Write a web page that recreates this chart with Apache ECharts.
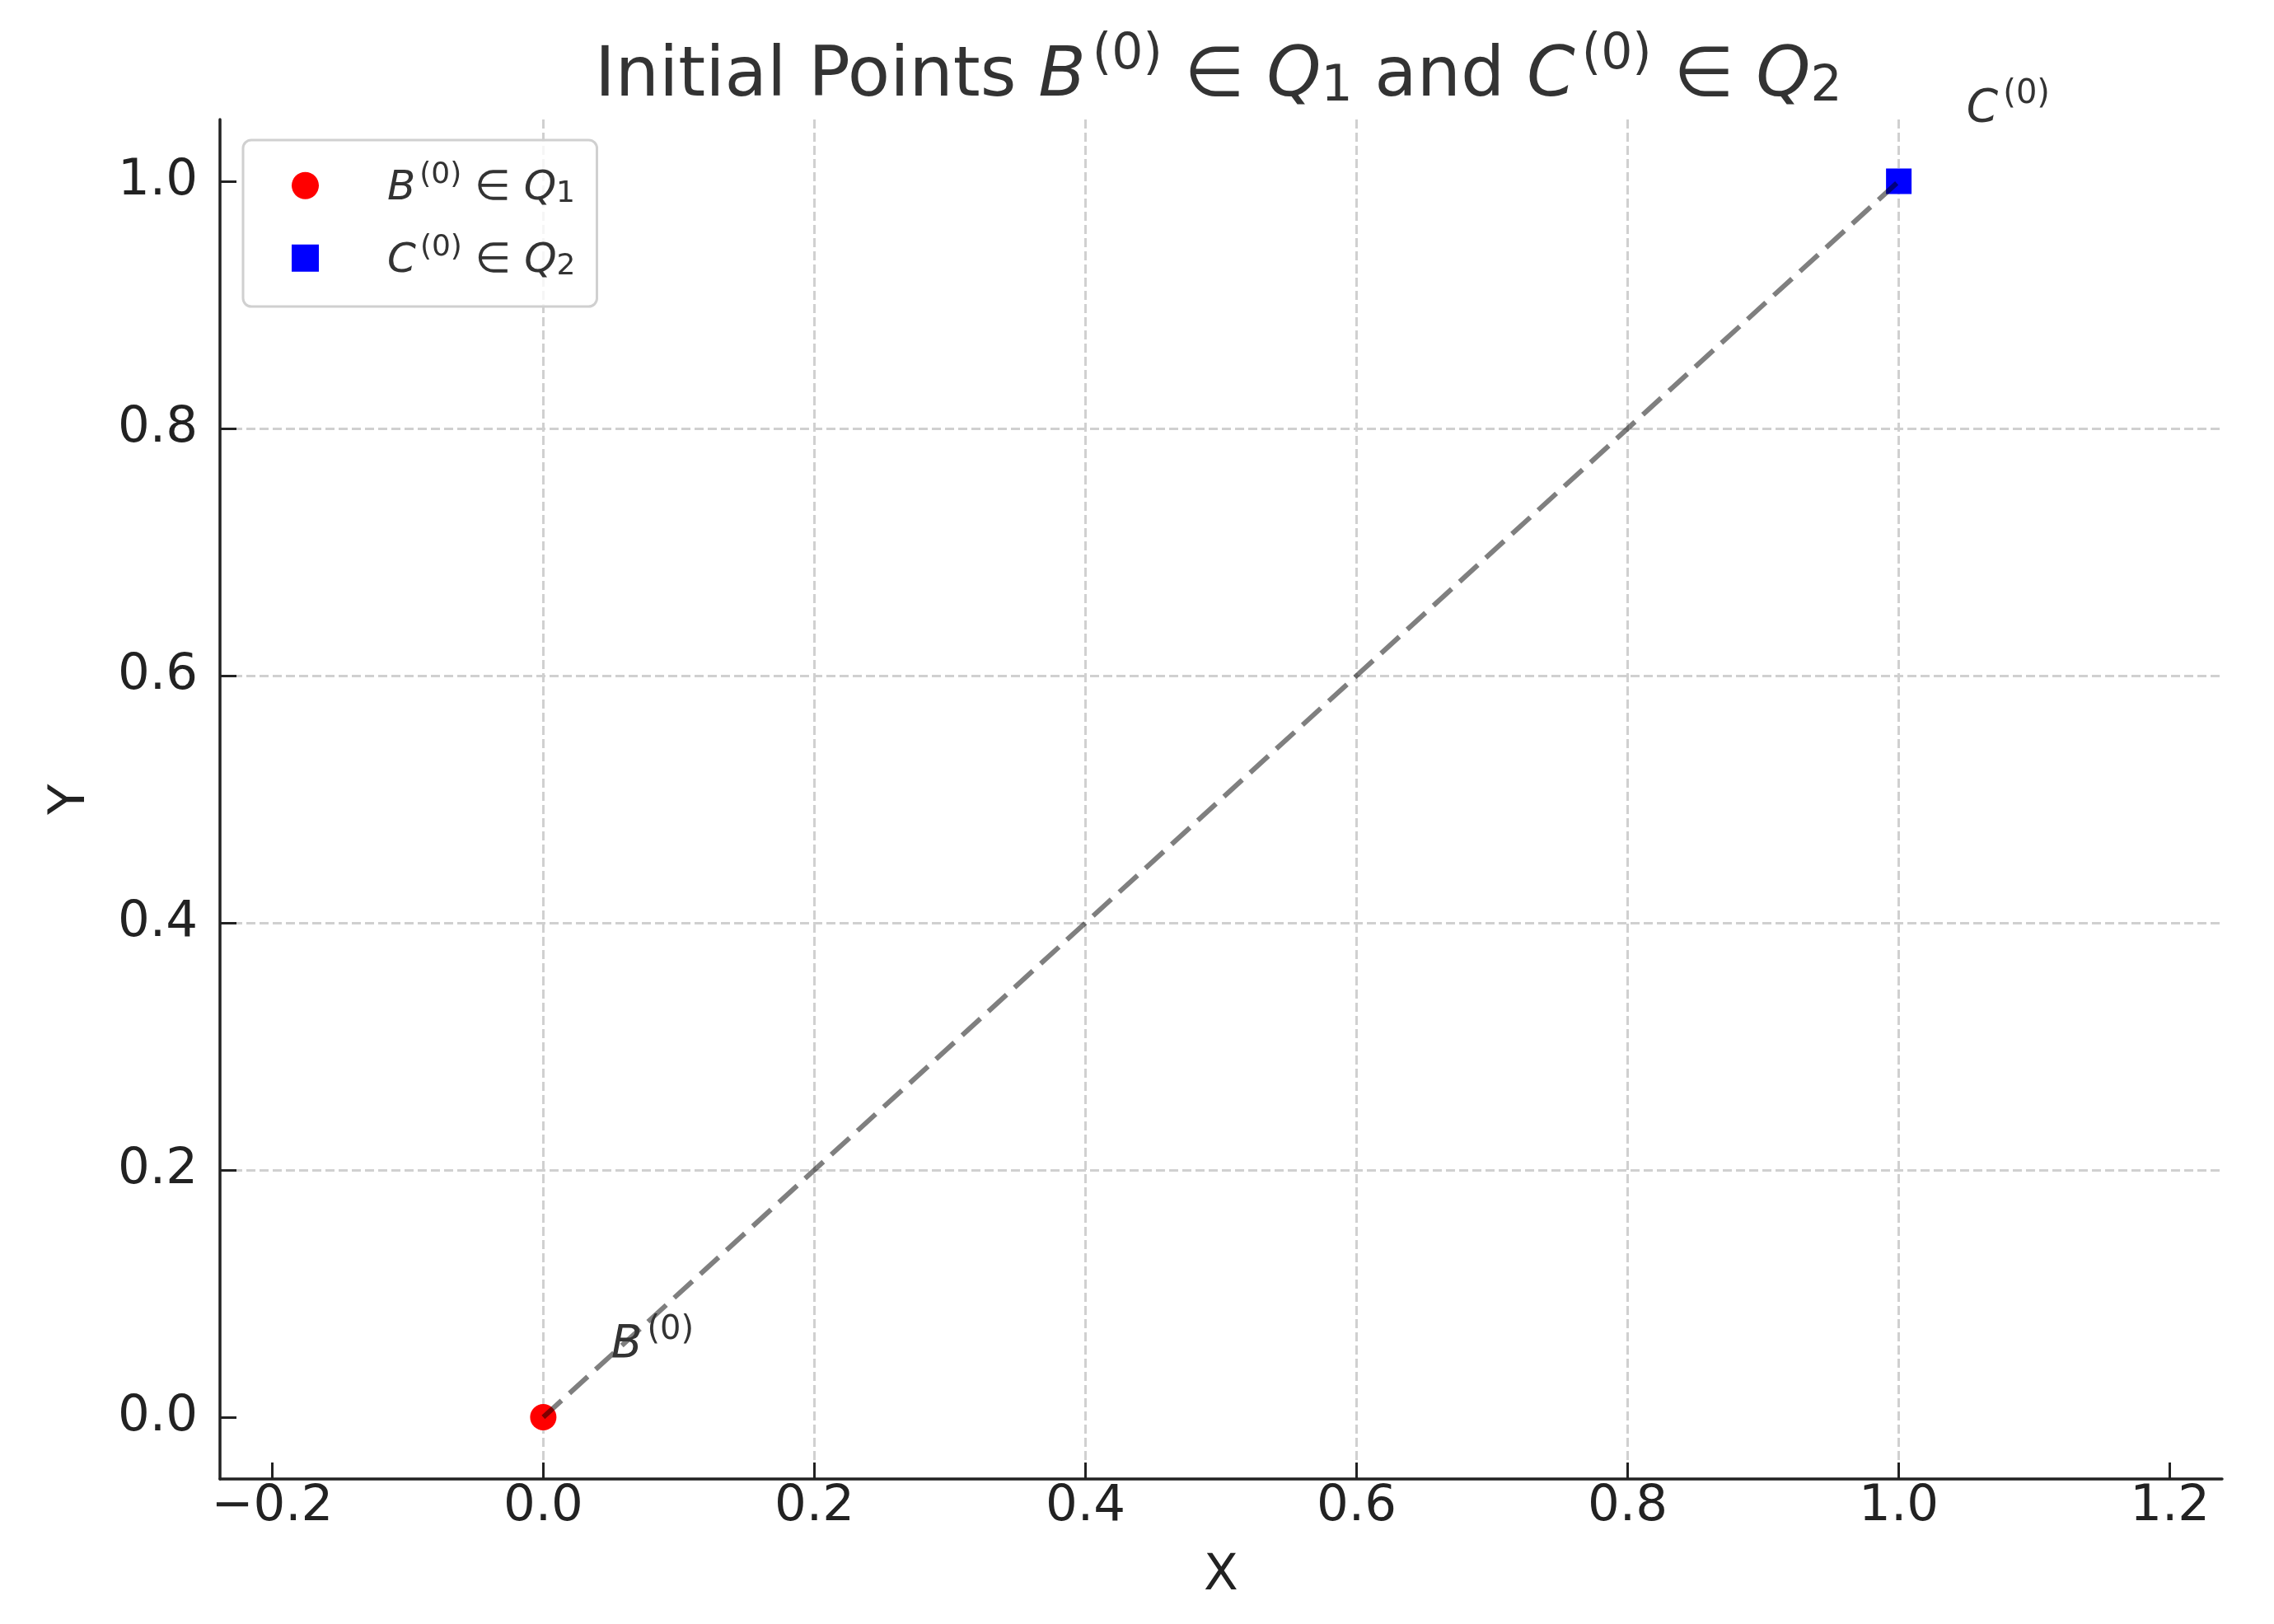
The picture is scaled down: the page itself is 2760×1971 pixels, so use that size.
<!DOCTYPE html>
<html>
<head>
<meta charset="utf-8">
<script src="https://cdn.jsdelivr.net/npm/echarts@6/dist/echarts.min.js"></script>
<style>
  html, body { margin: 0; padding: 0; background: #fff; }
  #chart { width: 2760px; height: 1971px; }
</style>
</head>
<body>
<div id="chart"></div>
<script>
// data
const pointB = [[0, 0]];
const pointC = [[1, 1]];
const segment = [[0, 0], [1, 1]];
const annotations = [[0.05, 0.05, 'B'], [1.05, 1.05, 'C']];
const xTicks = [-0.2, 0, 0.2, 0.4, 0.6, 0.8, 1.0, 1.2];
const yTicks = [0, 0.2, 0.4, 0.6, 0.8, 1.0];
const xRange = [-0.2385, 1.2385];
const yRange = [-0.05, 1.05];

const FONT = 'DejaVu Sans';
const TEXT = '#333333';
const AXIS = '#222222';

// rich styles for B^(0) ∈ Q_1 style math text
function mathRich (fs, gap) {
  const s = Math.round(fs * 0.72);
  const base = { fontFamily: FONT, fontWeight: 'normal', color: TEXT, verticalAlign: 'bottom' };
  return {
    n: Object.assign({}, base, { fontSize: fs, lineHeight: fs * 1.15 }),
    i: Object.assign({}, base, { fontSize: fs, lineHeight: fs * 1.15, fontStyle: 'italic' }),
    sup: Object.assign({}, base, { fontSize: s, lineHeight: s, padding: [0, 0, Math.round(fs * 0.46), Math.round(fs * 0.1)] }),
    sub: Object.assign({}, base, { fontSize: s, lineHeight: Math.round(fs * 0.67) }),
    gap: Object.assign({}, base, { fontSize: fs, lineHeight: fs * 1.15, width: gap || 0 })
  };
}

const nameB = 'B(0) ∈ Q1';
const nameC = 'C(0) ∈ Q2';
const legendText = {};
legendText[nameB] = '{gap| }{i|B}{sup|(0)}{n| ∈ }{i|Q}{sub|1}';
legendText[nameC] = '{gap| }{i|C}{sup|(0)}{n| ∈ }{i|Q}{sub|2}';

const fmt = v => (Math.round(v * 10) / 10).toFixed(1).replace('-', '\u2212');

const chart = echarts.init(document.getElementById('chart'));
chart.setOption({
  backgroundColor: '#ffffff',
  animation: false,
  title: {
    text: '{n|Initial Points }{i|B}{sup|(0)}{n| ∈ }{i|Q}{sub|1}{n| and }{i|C}{sup|(0)}{n| ∈ }{i|Q}{sub|2}',
    left: 722,
    top: 40,
    padding: 0,
    textStyle: { fontWeight: 'normal', rich: mathRich(84) }
  },
  legend: {
    orient: 'vertical',
    left: 295,
    top: 170,
    padding: [25, 26, 30, 59],
    itemGap: 29,
    itemWidth: 33,
    itemHeight: 33,
    backgroundColor: 'rgba(255,255,255,0.8)',
    borderColor: '#d0d0d0',
    borderWidth: 3,
    borderRadius: 10,
    data: [nameB, nameC],
    formatter: name => legendText[name],
    textStyle: { rich: mathRich(50, 78) }
  },
  grid: { left: 267, right: 63, top: 145, bottom: 176 },
  xAxis: {
    type: 'value',
    min: xRange[0],
    max: xRange[1],
    name: 'X',
    nameLocation: 'middle',
    nameGap: 88,
    nameTextStyle: { fontFamily: FONT, fontSize: 61, color: AXIS },
    axisLine: { onZero: false, lineStyle: { color: AXIS, width: 3.5 } },
    axisTick: { customValues: xTicks, inside: true, length: 20, lineStyle: { color: AXIS, width: 3 } },
    axisLabel: { customValues: xTicks, formatter: fmt, margin: 4, fontFamily: FONT, fontSize: 61, color: AXIS },
    splitLine: { show: true, showMinLine: false, showMaxLine: false, lineStyle: { color: '#d0d0d0', width: 3, type: [11, 5] } }
  },
  yAxis: {
    type: 'value',
    min: yRange[0],
    max: yRange[1],
    name: 'Y',
    nameLocation: 'middle',
    nameGap: 150,
    nameRotate: 90,
    nameTextStyle: { fontFamily: FONT, fontSize: 61, color: AXIS },
    axisLine: { onZero: false, lineStyle: { color: AXIS, width: 3.5 } },
    axisTick: { customValues: yTicks, inside: true, length: 20, lineStyle: { color: AXIS, width: 3 } },
    axisLabel: { customValues: yTicks, formatter: fmt, margin: 27, fontFamily: FONT, fontSize: 61, color: AXIS },
    splitLine: { show: true, showMinLine: false, showMaxLine: false, lineStyle: { color: '#d0d0d0', width: 3, type: [11, 5] } }
  },
  series: [
    {
      name: nameB,
      type: 'scatter',
      data: pointB,
      symbol: 'circle',
      symbolSize: 32,
      itemStyle: { color: '#ff0000', opacity: 1 },
      z: 2
    },
    {
      name: nameC,
      type: 'scatter',
      data: pointC,
      symbol: 'rect',
      symbolSize: 31,
      itemStyle: { color: '#0000ff', opacity: 1 },
      z: 2
    },
    {
      name: 'segment',
      type: 'line',
      data: segment,
      symbol: 'none',
      lineStyle: { color: 'rgba(0,0,0,0.5)', width: 6, type: [30, 13] },
      z: 3
    },
    {
      name: 'annotations',
      type: 'scatter',
      data: annotations,
      symbolSize: 0,
      clip: false,
      silent: true,
      itemStyle: { opacity: 1 },
      label: {
        show: true,
        position: [0, 0],
        align: 'left',
        verticalAlign: 'bottom',
        offset: [0, 15],
        formatter: p => '{i|' + p.data[2] + '}{sup|(0)}',
        rich: mathRich(55)
      },
      z: 4
    }
  ]
});
</script>
</body>
</html>
